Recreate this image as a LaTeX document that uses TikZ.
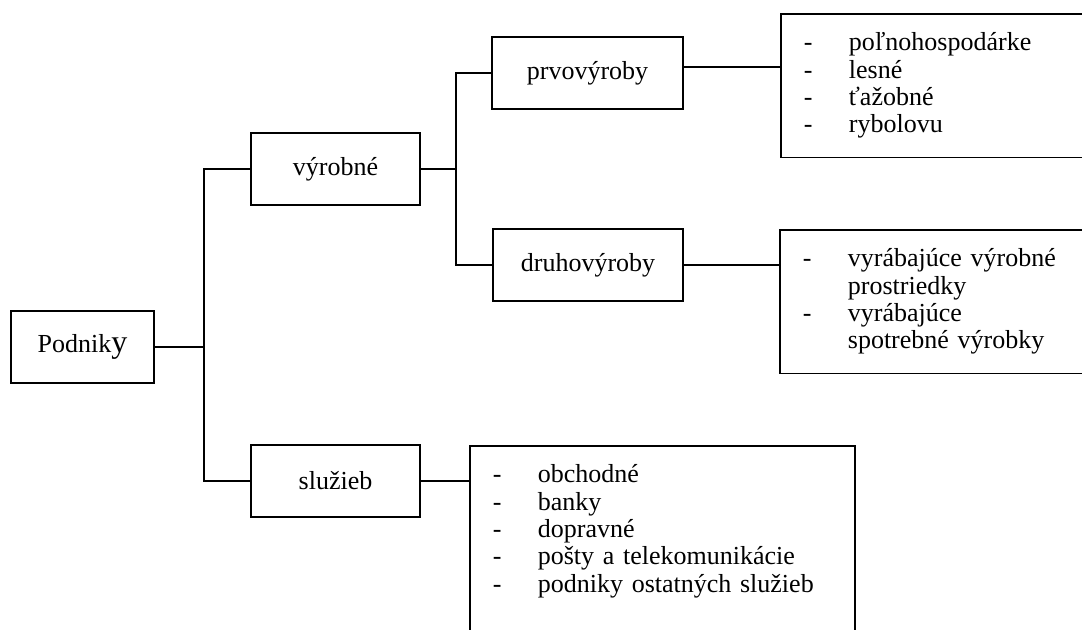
\documentclass[tikz,border=0pt]{standalone}
\usepackage{fontspec}
\setmainfont{Liberation Serif}
\newcommand{\li}[1]{\makebox[22.5pt][l]{-}#1}
\newcommand{\lcont}[1]{\hspace*{22.5pt}#1}
\begin{document}
\begin{tikzpicture}[x=0.5pt, y=-0.5pt,
  box/.style={draw, line width=0.9pt, minimum height=36pt, inner sep=0pt, font=\fontsize{13}{13.65}\selectfont},
  list/.style={draw, line width=0.9pt, anchor=north west, align=left, inner xsep=11.5pt, inner ysep=9.5pt, font=\fontsize{13}{13.65}\selectfont},
  link/.style={line width=0.9pt}]
\fill[white] (0,0) rectangle (1082,630);
\useasboundingbox (0,0) rectangle (1082,630);
\clip (0,0) rectangle (1082,630);
\node[box, minimum width=71.5pt] (podniky) at (82.5,347) {Podnik{\fontsize{16}{16}\selectfont y}};
\node[box, minimum width=84.5pt] (vyrobne) at (335.5,169) {výrobné};
\node[box, minimum width=84.5pt] (sluzieb) at (335.5,481) {služieb};
\node[box, minimum width=95.5pt] (prvo) at (587.5,73) {prvovýroby};
\node[box, minimum width=95pt] (druho) at (588,265) {druhovýroby};
\node[list, text width=137pt] (prvolist) at (780,13) {\li{poľnohospodárke}\\ \li{lesné}\\ \li{ťažobné}\\ \li{rybolovu}};
\node[list, text width=137pt] (druholist) at (779,229) {\li{vyrábajúce výrobné}\\ \lcont{prostriedky}\\ \li{vyrábajúce}\\ \lcont{spotrebné výrobky}};
\node[list, text width=169.5pt] (sluzlist) at (469,445) {\li{obchodné}\\ \li{banky}\\ \li{dopravné}\\ \li{pošty a telekomunikácie}\\ \li{podniky ostatných služieb}\\ \mbox{}};
\coordinate (j1) at (204,347);
\coordinate (j2) at (456,169);
\draw[link] (podniky.east) -- (j1);
\draw[link] (vyrobne.west) -| (j1) |- (sluzieb.west);
\draw[link] (vyrobne.east) -- (j2);
\draw[link] (prvo.west) -| (j2) |- (druho.west);
\draw[link] ([yshift=3pt]prvo.east) -- ([yshift=3pt]prvo.east -| prvolist.west);
\draw[link] (druho.east) -- (druho.east -| druholist.west);
\draw[link] (sluzieb.east) -- (sluzieb.east -| sluzlist.west);
\end{tikzpicture}
\end{document}
